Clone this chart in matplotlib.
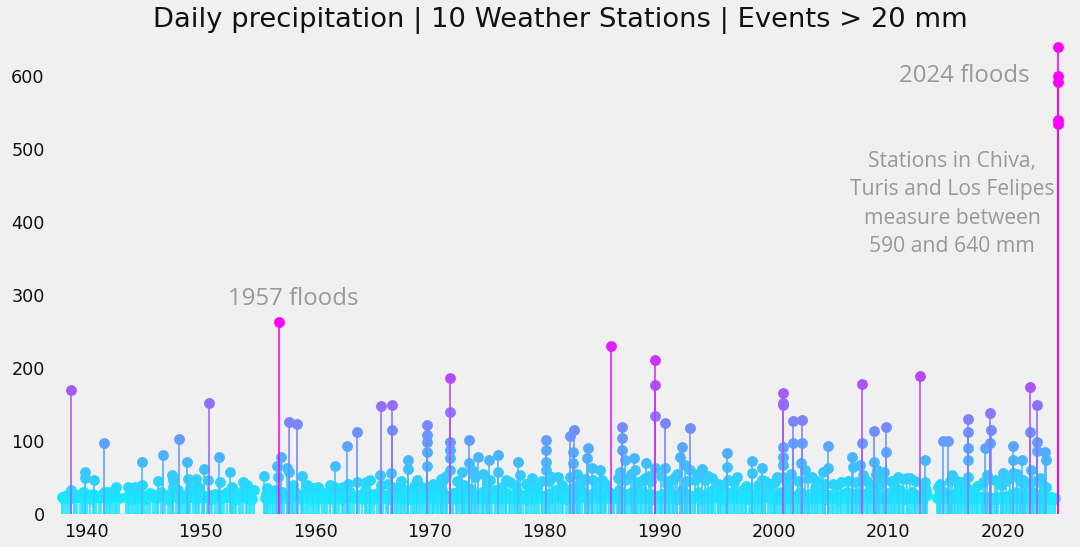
import matplotlib
matplotlib.use("Agg")
import matplotlib.pyplot as plt
import numpy as np
from matplotlib.colors import Normalize

# ---------------- data: (decimal year, daily precipitation mm) ----------------
peaks_1930s_1940s = [
    (1937.91, 23), (1938.34, 26), (1938.69, 33), (1938.69, 170), (1939.04, 23), (1939.48, 26),
    (1939.91, 58), (1939.91, 49), (1939.91, 29), (1940.70, 47), (1941.57, 98), (1941.57, 30),
    (1941.83, 23), (1942.09, 30), (1942.62, 37), (1942.71, 23), (1943.66, 37), (1943.75, 26),
    (1944.28, 37), (1944.89, 72), (1944.89, 40), (1944.54, 26), (1945.41, 26), (1946.02, 26),
    (1946.28, 46), (1946.72, 81), (1947.50, 54), (1947.59, 47), (1947.59, 37), (1948.12, 103),
    (1948.38, 26), (1948.81, 72), (1948.90, 48), (1949.08, 36), (1949.60, 48), (1949.77, 37),
]
peaks_1950s = [
    (1950.12, 26), (1950.30, 62), (1950.65, 47), (1950.73, 153), (1951.00, 26), (1951.61, 78),
    (1951.69, 44), (1951.87, 26), (1952.57, 58), (1952.74, 37), (1952.83, 28), (1953.70, 44),
    (1954.05, 40), (1954.31, 28), (1955.53, 52), (1955.79, 36), (1955.79, 26), (1956.32, 30),
    (1956.49, 33), (1956.67, 66), (1956.75, 51), (1956.84, 263), (1957.02, 78), (1957.54, 63),
    (1957.71, 58), (1957.71, 126), (1958.41, 124), (1958.06, 40), (1958.85, 52), (1959.28, 40),
    (1959.81, 36),
]
peaks_1960s = [
    (1960.24, 37), (1960.86, 28), (1961.73, 66), (1961.73, 37), (1962.43, 37), (1962.77, 93),
    (1962.86, 42), (1963.21, 23), (1963.65, 112), (1963.65, 44), (1964.78, 47), (1964.78, 23),
    (1965.65, 53), (1965.74, 148), (1965.74, 40), (1966.70, 149), (1966.70, 116), (1966.61, 56),
    (1966.70, 37), (1967.14, 36), (1967.84, 33), (1968.10, 74), (1968.10, 62), (1968.88, 47),
    (1969.32, 37), (1969.76, 122), (1969.76, 108), (1969.76, 99), (1969.76, 85), (1969.76, 66),
    (1969.84, 37), (1961.30, 40), (1964.40, 44), (1967.45, 45), (1968.60, 38), (1966.30, 42),
]
peaks_1970s = [
    (1970.72, 37), (1971.15, 47), (1971.76, 187), (1971.76, 140), (1971.76, 99), (1971.76, 88),
    (1971.76, 77), (1971.76, 60), (1972.81, 58), (1972.81, 37), (1973.42, 102), (1973.42, 70),
    (1973.94, 51), (1974.21, 78), (1975.17, 74), (1975.25, 47), (1975.95, 81), (1975.95, 58),
    (1976.30, 37), (1977.00, 44), (1977.70, 71), (1977.87, 53), (1978.92, 49), (1979.35, 37),
    (1970.30, 42), (1970.95, 48), (1972.40, 45), (1973.00, 40), (1974.60, 55), (1974.95, 43),
    (1976.60, 47), (1977.40, 40), (1978.40, 42), (1979.80, 45), (1971.40, 52), (1973.70, 60),
]
peaks_1980s = [
    (1980.14, 101), (1980.14, 88), (1980.14, 71), (1980.14, 60), (1980.66, 51), (1980.92, 33),
    (1981.19, 51), (1982.23, 107), (1982.58, 116), (1982.50, 85), (1982.50, 70), (1982.23, 51),
    (1982.50, 36), (1983.80, 90), (1983.72, 77), (1984.15, 63), (1984.24, 47), (1984.85, 60),
    (1985.03, 47), (1984.68, 29), (1985.81, 231), (1986.77, 120), (1986.77, 104), (1986.77, 88),
    (1987.03, 74), (1987.03, 47), (1987.82, 77), (1987.91, 60), (1988.08, 37), (1988.87, 70),
    (1988.78, 49), (1989.65, 211), (1989.65, 177), (1989.65, 135), (1989.65, 63),
    (1980.40, 45), (1981.50, 40), (1982.80, 55), (1983.50, 48), (1983.00, 42), (1985.30, 42),
    (1986.40, 50), (1986.60, 58), (1987.50, 55), (1988.40, 45), (1989.10, 52), (1989.30, 45),
    (1988.00, 44),
]
peaks_1990s = [
    (1990.52, 125), (1990.52, 63), (1990.70, 42), (1991.40, 51), (1992.01, 92), (1991.83, 78),
    (1992.27, 67), (1992.71, 118), (1992.71, 60), (1993.14, 47), (1993.75, 62), (1994.01, 47),
    (1994.62, 49), (1994.71, 33), (1995.93, 84), (1995.93, 64), (1996.02, 47), (1995.76, 29),
    (1996.81, 51), (1997.24, 33), (1998.12, 73), (1998.12, 56), (1998.38, 29), (1998.99, 63),
    (1998.99, 47), (1999.51, 36), (1990.20, 52), (1990.90, 45), (1991.20, 48), (1991.60, 55),
    (1992.45, 45), (1993.40, 55), (1994.30, 52), (1995.10, 42), (1995.40, 40), (1996.50, 44),
    (1997.60, 38), (1998.60, 40), (1999.20, 45), (1999.80, 42),
]
peaks_2000s = [
    (2000.30, 51), (2000.82, 166), (2000.82, 153), (2000.82, 149), (2000.82, 92), (2000.82, 78),
    (2000.82, 67), (2000.82, 51), (2001.26, 37), (2001.69, 128), (2001.69, 97), (2002.39, 70),
    (2002.48, 129), (2002.48, 97), (2002.74, 60), (2003.35, 51), (2003.61, 36), (2004.31, 58),
    (2004.75, 94), (2004.75, 63), (2005.18, 42), (2005.88, 44), (2006.23, 29), (2006.84, 78),
    (2006.93, 64), (2007.71, 179), (2007.71, 97), (2007.54, 67), (2007.80, 53), (2008.41, 40),
    (2008.76, 114), (2008.76, 71), (2009.02, 60), (2009.81, 120), (2009.81, 85), (2009.46, 49),
    (2000.10, 44), (2001.00, 48), (2001.50, 55), (2002.10, 45), (2002.95, 50), (2003.80, 45),
    (2004.50, 42), (2005.50, 40), (2006.50, 45), (2007.20, 44), (2008.10, 45), (2008.95, 55),
    (2009.60, 58), (2009.20, 40),
]
peaks_2010s = [
    (2010.86, 51), (2011.03, 33), (2011.90, 49), (2012.77, 189), (2013.21, 74), (2013.21, 44),
    (2013.38, 26), (2014.35, 37), (2014.78, 100), (2015.22, 100), (2015.57, 53), (2015.83, 47),
    (2016.09, 33), (2016.96, 131), (2016.96, 112), (2016.96, 90), (2016.96, 74), (2016.96, 51),
    (2017.40, 33), (2018.18, 23), (2018.45, 90), (2018.62, 53), (2018.88, 138), (2018.97, 115),
    (2018.88, 97), (2019.32, 47), (2010.20, 45), (2010.50, 40), (2011.30, 48), (2011.60, 50),
    (2012.30, 45), (2013.00, 42), (2014.50, 42), (2015.40, 45), (2016.30, 44), (2016.70, 40),
    (2017.70, 38), (2018.30, 44), (2019.50, 45), (2019.80, 40),
]
peaks_2020s = [
    (2020.02, 56), (2020.19, 23), (2020.89, 94), (2020.89, 74), (2020.89, 56), (2021.68, 74),
    (2021.76, 47), (2022.37, 174), (2022.37, 112), (2022.46, 60), (2022.98, 149), (2022.98, 99),
    (2022.98, 86), (2023.68, 85), (2023.77, 74), (2023.77, 37), (2024.55, 22),
    (2024.82, 640), (2024.82, 601), (2024.82, 592), (2024.82, 540), (2024.82, 534),
    (2020.30, 45), (2020.60, 50), (2021.20, 55), (2021.50, 45), (2021.95, 42), (2022.60, 45),
    (2023.20, 50), (2023.50, 40),
]

base_1930s_1940s = [
    (1937.98, 22), (1938.15, 25), (1938.52, 21), (1938.90, 28), (1939.20, 24), (1939.60, 22),
    (1939.75, 31), (1940.05, 24), (1940.30, 21), (1940.55, 27), (1940.85, 23), (1941.10, 22),
    (1941.30, 26), (1941.75, 30), (1942.00, 21), (1942.25, 25), (1942.40, 28), (1942.85, 22),
    (1943.50, 24), (1943.90, 21), (1944.10, 30), (1944.40, 22), (1944.70, 27), (1945.00, 24),
    (1945.25, 21), (1945.60, 29), (1945.85, 23), (1946.15, 22), (1946.50, 30), (1946.90, 25),
    (1947.10, 21), (1947.30, 27), (1947.80, 23), (1948.00, 33), (1948.20, 21), (1948.50, 25),
    (1948.70, 22), (1949.00, 29), (1949.30, 24), (1949.50, 21), (1949.85, 30),
]
base_1950s = [
    (1950.20, 22), (1950.50, 25), (1950.90, 21), (1951.20, 28), (1951.45, 23), (1951.75, 21),
    (1952.05, 24), (1952.30, 30), (1952.65, 22), (1952.95, 26), (1953.10, 21), (1953.35, 25),
    (1953.55, 31), (1953.90, 22), (1954.20, 24), (1954.45, 21), (1954.60, 33), (1955.60, 22),
    (1955.70, 28), (1955.95, 21), (1956.05, 25), (1956.25, 22), (1956.55, 27), (1956.80, 21),
    (1957.10, 30), (1957.30, 24), (1957.60, 21), (1957.90, 27), (1958.00, 22), (1958.20, 31),
    (1958.50, 24), (1958.70, 21), (1958.95, 28), (1959.10, 22), (1959.40, 26), (1959.60, 21),
    (1959.90, 29),
]
base_1960s = [
    (1960.05, 24), (1960.35, 21), (1960.55, 30), (1960.75, 22), (1961.00, 27), (1961.25, 21),
    (1961.50, 25), (1961.90, 22), (1962.10, 29), (1962.30, 21), (1962.60, 26), (1962.95, 23),
    (1963.05, 30), (1963.40, 22), (1963.80, 26), (1964.05, 21), (1964.30, 33), (1964.55, 22),
    (1964.95, 27), (1965.10, 21), (1965.35, 24), (1965.55, 30), (1965.90, 22), (1966.15, 26),
    (1966.35, 21), (1966.85, 29), (1967.00, 22), (1967.30, 25), (1967.55, 21), (1967.70, 30),
    (1968.00, 23), (1968.30, 21), (1968.50, 27), (1968.75, 22), (1969.00, 31), (1969.15, 21),
    (1969.45, 26), (1969.65, 22), (1969.95, 28),
]
base_1970s = [
    (1970.05, 22), (1970.25, 30), (1970.45, 21), (1970.60, 26), (1970.90, 23), (1971.05, 33),
    (1971.30, 21), (1971.50, 25), (1971.90, 22), (1972.05, 29), (1972.25, 21), (1972.50, 32),
    (1972.70, 24), (1972.95, 21), (1973.10, 27), (1973.25, 22), (1973.60, 35), (1973.80, 21),
    (1974.00, 25), (1974.35, 22), (1974.55, 30), (1974.80, 21), (1975.00, 26), (1975.40, 22),
    (1975.65, 33), (1975.80, 21), (1976.10, 24), (1976.45, 21), (1976.65, 29), (1976.90, 22),
    (1977.15, 26), (1977.35, 21), (1977.55, 32), (1977.95, 22), (1978.15, 25), (1978.35, 21),
    (1978.55, 30), (1978.75, 23), (1979.05, 21), (1979.20, 28), (1979.55, 22), (1979.75, 25),
    (1979.95, 21),
]
base_1980s = [
    (1980.05, 22), (1980.30, 27), (1980.50, 21), (1980.80, 24), (1981.00, 30), (1981.35, 22),
    (1981.60, 26), (1981.85, 21), (1982.05, 33), (1982.35, 22), (1982.70, 27), (1982.90, 21),
    (1983.10, 25), (1983.30, 31), (1983.55, 22), (1983.90, 21), (1984.05, 27), (1984.40, 22),
    (1984.55, 34), (1984.95, 21), (1985.20, 26), (1985.40, 22), (1985.60, 30), (1985.95, 21),
    (1986.10, 25), (1986.30, 21), (1986.50, 33), (1986.90, 22), (1987.20, 27), (1987.40, 21),
    (1987.60, 31), (1987.75, 22), (1988.20, 26), (1988.40, 21), (1988.60, 30), (1989.00, 22),
    (1989.20, 28), (1989.40, 21), (1989.80, 25), (1989.95, 22),
]
base_1990s = [
    (1990.05, 22), (1990.25, 27), (1990.40, 21), (1990.85, 30), (1991.05, 22), (1991.25, 26),
    (1991.60, 21), (1991.95, 33), (1992.15, 22), (1992.40, 28), (1992.55, 21), (1992.90, 25),
    (1993.05, 22), (1993.35, 30), (1993.55, 21), (1993.90, 26), (1994.15, 22), (1994.35, 31),
    (1994.50, 21), (1994.90, 25), (1995.10, 22), (1995.30, 28), (1995.55, 21), (1995.85, 24),
    (1996.15, 22), (1996.35, 30), (1996.60, 21), (1996.95, 26), (1997.10, 22), (1997.40, 24),
    (1997.60, 21), (1997.85, 28), (1998.00, 22), (1998.25, 25), (1998.55, 21), (1998.80, 30),
    (1999.05, 22), (1999.25, 27), (1999.70, 21), (1999.90, 24),
]
base_2000s = [
    (2000.05, 22), (2000.15, 26), (2000.45, 21), (2000.65, 30), (2000.95, 22), (2001.10, 28),
    (2001.40, 21), (2001.85, 25), (2002.05, 22), (2002.25, 30), (2002.60, 21), (2002.90, 26),
    (2003.05, 22), (2003.20, 27), (2003.50, 21), (2003.85, 25), (2004.05, 22), (2004.20, 31),
    (2004.50, 21), (2004.90, 26), (2005.05, 22), (2005.35, 28), (2005.60, 21), (2005.75, 24),
    (2006.05, 22), (2006.40, 30), (2006.60, 21), (2006.75, 26), (2007.05, 22), (2007.25, 29),
    (2007.40, 21), (2007.95, 25), (2008.10, 22), (2008.25, 30), (2008.55, 21), (2008.90, 27),
    (2009.15, 22), (2009.30, 25), (2009.60, 21), (2009.95, 29),
]
base_2010s = [
    (2010.05, 22), (2010.30, 26), (2010.50, 21), (2010.70, 30), (2010.95, 22), (2011.15, 27),
    (2011.40, 21), (2011.60, 24), (2011.75, 22), (2012.05, 30), (2012.25, 21), (2012.45, 26),
    (2012.60, 22), (2012.95, 28), (2013.05, 21), (2013.30, 33), (2014.25, 22), (2014.45, 27),
    (2014.60, 21), (2014.90, 30), (2015.05, 22), (2015.35, 25), (2015.50, 21), (2015.70, 28),
    (2015.95, 22), (2016.20, 26), (2016.40, 21), (2016.60, 31), (2016.80, 22), (2017.10, 25),
    (2017.30, 21), (2017.55, 28), (2017.75, 22), (2017.95, 24), (2018.05, 21), (2018.30, 22),
    (2018.55, 21), (2018.75, 23), (2019.05, 22), (2019.20, 21), (2019.45, 24), (2019.60, 21),
    (2019.80, 23), (2019.95, 22),
]
base_2020s = [
    (2020.05, 22), (2020.35, 25), (2020.50, 21), (2020.70, 28), (2020.95, 22), (2021.10, 30),
    (2021.30, 21), (2021.50, 26), (2021.85, 22), (2022.00, 27), (2022.20, 21), (2022.60, 30),
    (2022.80, 22), (2023.05, 25), (2023.25, 21), (2023.45, 29), (2023.60, 22), (2023.95, 24),
    (2024.10, 21), (2024.30, 23), (2024.45, 21),
]

x_ticks = [1940, 1950, 1960, 1970, 1980, 1990, 2000, 2010, 2020]
y_ticks = [0, 100, 200, 300, 400, 500, 600]
title = "Daily precipitation | 10 Weather Stations | Events > 20 mm"

# ---------------- build ----------------
events = (peaks_1930s_1940s + peaks_1950s + peaks_1960s + peaks_1970s + peaks_1980s +
          peaks_1990s + peaks_2000s + peaks_2010s + peaks_2020s +
          base_1930s_1940s + base_1950s + base_1960s + base_1970s + base_1980s +
          base_1990s + base_2000s + base_2010s + base_2020s)
year = np.array([e[0] for e in events])
mm = np.array([e[1] for e in events], dtype=float)
order = np.argsort(mm, kind="stable")

bg = "#f0f0f0"
cmap = plt.get_cmap("cool")
norm = Normalize(vmin=0, vmax=263, clip=True)

fig = plt.figure(figsize=(10.8, 5.47), dpi=100, facecolor=bg)
ax = fig.add_axes([0.053, 0.060, 0.936, 0.874])
ax.set_facecolor(bg)

for k, i in enumerate(order):
    c = cmap(norm(mm[i]))
    ax.plot([year[i], year[i]], [0, mm[i]], color=c, lw=1.3, alpha=0.9,
            solid_capstyle="butt", zorder=2 + 2 * k)
    ax.plot(year[i], mm[i], "o", color=c, ms=7.8, mew=0, zorder=3 + 2 * k)

ax.set_xlim(1937.47, 2025.69)
ax.set_ylim(0, 655)
ax.set_xticks(x_ticks)
ax.set_yticks(y_ticks)
ax.tick_params(axis="both", length=0, labelsize=12.7, colors="#111111")
ax.tick_params(axis="y", pad=9)
ax.tick_params(axis="x", pad=6)
for s in ax.spines.values():
    s.set_visible(False)

fig.text(560 / 1080, 0.963, title, ha="center", va="center", fontsize=19.7, color="#111111")

ann = dict(family="Open Sans", color="#999999")
ax.text(1958.06, 295, "1957 floods", ha="center", va="center", fontsize=17.3, **ann)
ax.text(2022.3, 600, "2024 floods", ha="right", va="center", fontsize=17.3, **ann)
ax.text(2015.57, 425, "Stations in Chiva,\nTuris and Los Felipes\nmeasure between\n590 and 640 mm",
        ha="center", va="center", fontsize=15.2, linespacing=1.47, **ann)

fig.savefig("out.png", dpi=100, facecolor=bg)
